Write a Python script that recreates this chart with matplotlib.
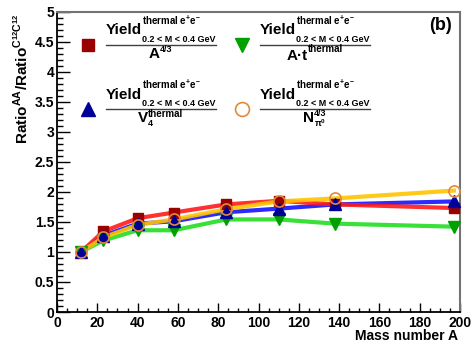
import matplotlib

matplotlib.use("Agg")
import matplotlib.pyplot as plt
from matplotlib.lines import Line2D
from matplotlib.ticker import FormatStrFormatter, MultipleLocator

# mass number of the colliding system
mass_a = [12, 23, 40, 58, 84, 110, 138, 197]

# yield ratio AA / C+C for the four normalisations
ratio_a43 = [1.00, 1.34, 1.56, 1.655, 1.79, 1.85, 1.79, 1.73]
ratio_at = [1.00, 1.19, 1.36, 1.36, 1.54, 1.54, 1.47, 1.42]
ratio_v4 = [1.00, 1.27, 1.47, 1.51, 1.66, 1.72, 1.79, 1.84]
ratio_npi = [1.00, 1.24, 1.45, 1.54, 1.71, 1.84, 1.89, 2.02]

x_ticks_step, y_ticks_step = 20, 0.5

W, H = 474, 344
plt.rcParams.update({
    "font.family": ["Liberation Sans", "DejaVu Sans"],
    "font.weight": "bold",
    "mathtext.fontset": "custom",
    "mathtext.rm": "Liberation Sans:bold",
    "mathtext.it": "Liberation Sans:bold",
    "mathtext.bf": "Liberation Sans:bold",
    "mathtext.default": "rm",
})

fig = plt.figure(figsize=(W / 100, H / 100), dpi=100)
ax = fig.add_axes([57 / W, 1 - 312 / H, 403 / W, 300.5 / H])

# lines first, markers on top
ax.plot(mass_a, ratio_at, color="#22dd22", lw=3, alpha=0.9, zorder=2)
ax.plot(mass_a, ratio_v4, color="#1414ff", lw=3, alpha=0.9, zorder=2)
ax.plot(mass_a, ratio_a43, color="#ff1a1a", lw=3, alpha=0.9, zorder=2)
ax.plot(mass_a, ratio_npi, color="#ffc400", lw=3, alpha=0.9, zorder=2)

ax.plot(mass_a, ratio_a43, ls="none", marker="s", ms=7, color="#990000", zorder=3)
ax.plot(mass_a, ratio_at, ls="none", marker="v", ms=8, color="#00a000", zorder=3)
ax.plot(mass_a, ratio_v4, ls="none", marker="^", ms=8, color="#000099", zorder=3)
ax.plot(mass_a, ratio_npi, ls="none", marker="o", ms=8, mfc="none",
        mec="#e08a3c", mew=1.2, zorder=4)

ax.set_xlim(0, 200)
ax.set_ylim(0, 5)
ax.xaxis.set_major_locator(MultipleLocator(x_ticks_step))
ax.xaxis.set_minor_locator(MultipleLocator(5))
ax.yaxis.set_major_locator(MultipleLocator(y_ticks_step))
ax.yaxis.set_minor_locator(MultipleLocator(0.1))
ax.yaxis.set_major_formatter(FormatStrFormatter("%g"))
ax.tick_params(which="both", direction="in", top=False, right=False,
               labelsize=10, width=1)
ax.tick_params(axis="y", which="major", length=9, pad=2)
ax.tick_params(axis="y", which="minor", length=4)
ax.tick_params(axis="x", which="major", length=6.5, pad=3)
ax.tick_params(axis="x", which="minor", length=3)
for side in ("left", "bottom"):
    ax.spines[side].set_linewidth(1.3)
for side in ("top", "right"):
    ax.spines[side].set_color("0.45")
    ax.spines[side].set_linewidth(1.5)

fig.text(458 / W, 1 - 343.5 / H, "Mass number A", ha="right", va="bottom",
         fontsize=10)
fig.text(22 / W, 1 - 13 / H, r"Ratio$^{AA}$/Ratio$^{C^{12}C^{12}}$",
         rotation=90, ha="center", va="top", fontsize=11)
fig.text(441 / W, 1 - 25 / H, "(b)", ha="center", va="center", fontsize=13)

# ROOT-like fraction legend, built from text pieces
renderer = fig.canvas.get_renderer()


def put(s, x, y, size):
    t = fig.text(x / W, 1 - y / H, s, fontsize=size, ha="left", va="baseline")
    return t, t.get_window_extent(renderer).width


def compose(parts, x, y):
    texts, cur = [], x
    for p in parts:
        group = p if isinstance(p, list) else [p]
        w_max = 0
        for s, size, rise in group:
            t, w = put(s, cur, y - rise, size)
            texts.append(t)
            w_max = max(w_max, w)
        cur += w_max
    return texts, cur - x


def fraction(den, x, ybar, den_drop):
    num = [("Yield", 11, 0),
           [("thermal e$^{+}$e$^{-}$", 7, 10), ("0.2 < M < 0.4 GeV", 6.5, -7.3)]]
    _, wn = compose(num, x, ybar - 10)
    fig.add_artist(Line2D([x / W, (x + wn) / W], [1 - ybar / H] * 2,
                          transform=fig.transFigure, color="0.25", lw=1.0))
    dtexts, wd = compose(den, 0, ybar + den_drop)
    shift = x + (wn - wd) / 2
    for t in dtexts:
        t.set_x(t.get_position()[0] + shift / W)


def marker(x, y, **kw):
    fig.add_artist(Line2D([x / W], [1 - y / H], transform=fig.transFigure,
                          ls="none", **kw))


col1, col2 = 106, 260
row1, row2 = 44.5, 109

marker(col1 - 18, row1, marker="s", ms=9, color="#990000")
fraction([("A", 11, 0), ("4/3", 6.5, 6.6)], col1, row1, 14)

marker(col2 - 18, row1, marker="v", ms=10, color="#00a000")
fraction([("A·t", 11, 0), ("thermal", 7, 7)], col2, row1, 15)

marker(col1 - 18, row2, marker="^", ms=10, color="#000099")
fraction([("V", 11, 0), [("thermal", 7, 5.5), ("4", 6.5, -4.5)]], col1, row2, 13)

marker(col2 - 18, row2, marker="o", ms=10, mfc="none", mec="#e08a3c", mew=1.2)
fraction([("N", 11, 0), [("4/3", 6.5, 6), (r"$\pi^{0}$", 6.5, -5)]], col2, row2, 13)

fig.savefig("out.png", dpi=100)
